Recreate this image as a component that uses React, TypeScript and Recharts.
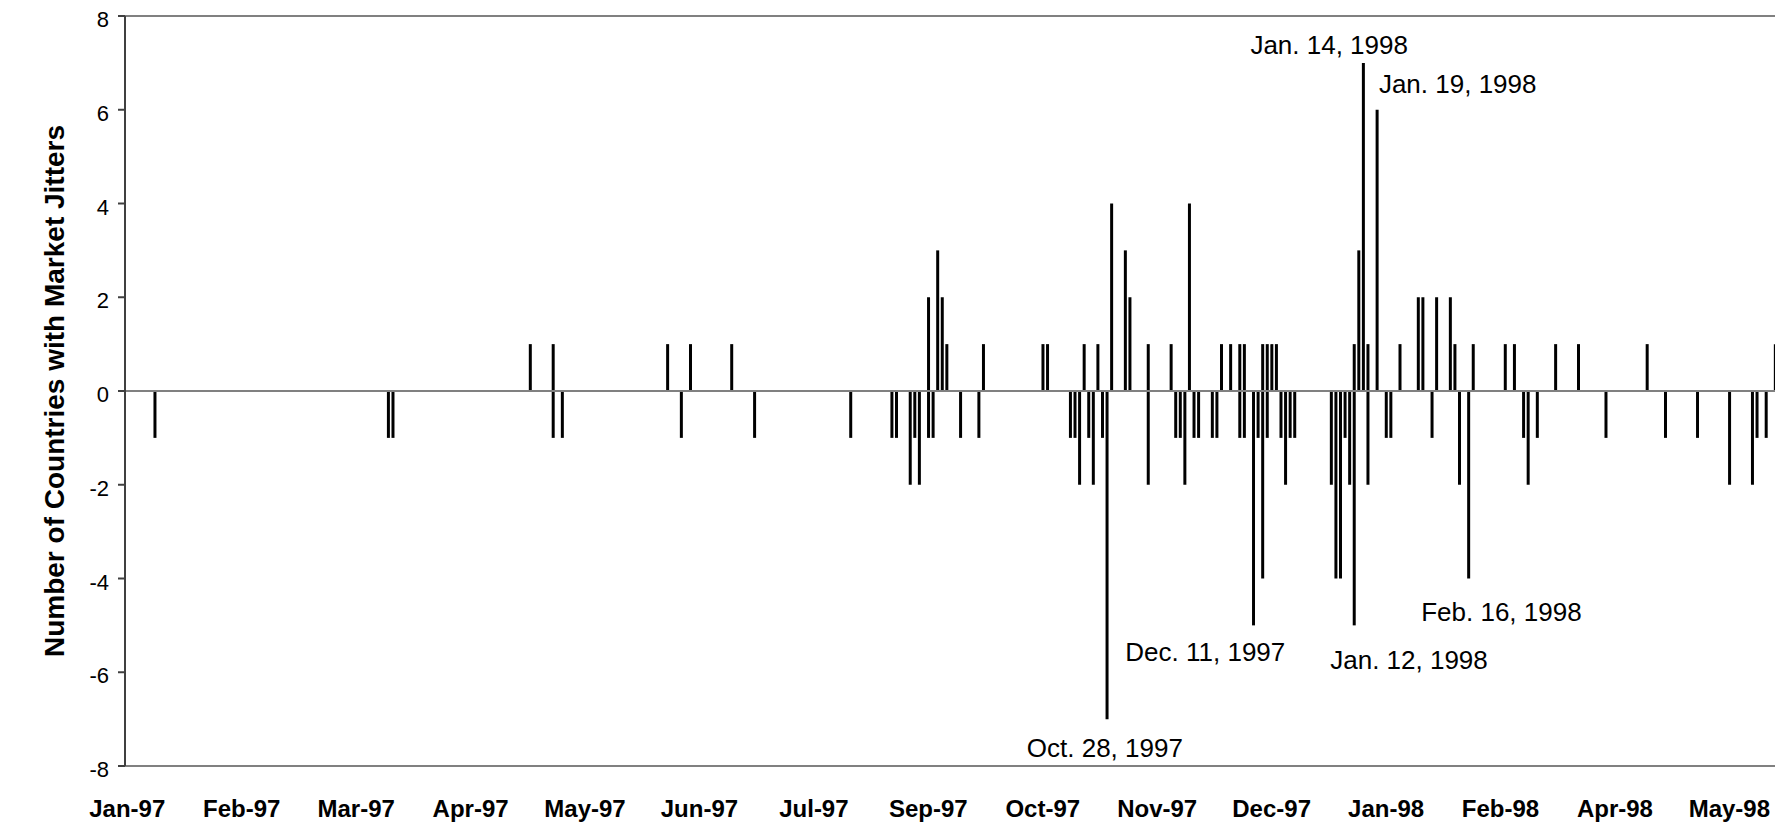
import { BarChart, Bar, XAxis, YAxis, ReferenceLine, ReferenceDot } from 'recharts';

// trading days (weekdays) shown on the category axis
const firstDay = '1997-01-01';
const lastDay = '1998-05-21';

// days with countries jittering upward
const upDays = [
    '1997-05-05', '1997-05-12', '1997-06-16', '1997-06-23', '1997-07-04',
    '1997-09-03', '1997-09-05', '1997-09-08', '1997-09-09', '1997-09-19',
    '1997-10-08', '1997-10-09', '1997-10-21', '1997-10-24', '1997-10-29',
    '1997-11-03', '1997-11-04', '1997-11-10', '1997-11-17', '1997-11-21',
    '1997-12-02', '1997-12-04', '1997-12-08', '1997-12-09', '1997-12-15',
    '1997-12-16', '1997-12-17', '1997-12-18', '1998-01-12', '1998-01-13',
    '1998-01-14', '1998-01-15', '1998-01-19', '1998-01-26', '1998-01-30',
    '1998-02-02', '1998-02-05', '1998-02-10', '1998-02-11', '1998-02-17',
    '1998-02-26', '1998-03-02', '1998-03-13', '1998-03-20', '1998-04-10',
    '1998-05-20',
];
const upCounts = [
    1, 1, 1, 1, 1,
    2, 3, 2, 1, 1,
    1, 1, 1, 1, 4,
    3, 2, 1, 1, 4,
    1, 1, 1, 1, 1,
    1, 1, 1, 1, 3,
    7, 1, 6, 1, 2,
    2, 2, 2, 1, 1,
    1, 1, 1, 1, 1,
    1,
];

// days with countries jittering downward
const downDays = [
    '1997-01-09', '1997-03-21', '1997-03-24', '1997-05-12', '1997-05-14',
    '1997-06-19', '1997-07-11', '1997-08-11', '1997-08-22', '1997-08-25',
    '1997-08-28', '1997-08-29', '1997-09-01', '1997-09-03', '1997-09-04',
    '1997-09-12', '1997-09-18', '1997-10-16', '1997-10-17', '1997-10-20',
    '1997-10-22', '1997-10-23', '1997-10-27', '1997-10-28', '1997-11-10',
    '1997-11-18', '1997-11-19', '1997-11-20', '1997-11-24', '1997-11-25',
    '1997-11-28', '1997-12-01', '1997-12-08', '1997-12-09', '1997-12-11',
    '1997-12-12', '1997-12-15', '1997-12-16', '1997-12-19', '1997-12-22',
    '1997-12-23', '1997-12-24', '1998-01-05', '1998-01-06', '1998-01-07',
    '1998-01-08', '1998-01-09', '1998-01-12', '1998-01-15', '1998-01-21',
    '1998-01-22', '1998-02-04', '1998-02-12', '1998-02-16', '1998-03-04',
    '1998-03-05', '1998-03-09', '1998-03-30', '1998-04-16', '1998-04-27',
    '1998-05-06', '1998-05-13', '1998-05-14', '1998-05-18',
];
const downCounts = [
    -1, -1, -1, -1, -1,
    -1, -1, -1, -1, -1,
    -2, -1, -2, -1, -1,
    -1, -1, -1, -1, -2,
    -1, -2, -1, -7, -2,
    -1, -1, -2, -1, -1,
    -1, -1, -1, -1, -5,
    -1, -4, -1, -1, -2,
    -1, -1, -2, -4, -4,
    -1, -2, -5, -2, -1,
    -1, -1, -2, -4, -1,
    -2, -1, -1, -1, -1,
    -2, -2, -1, -1,
];

const yTicks = [-8, -6, -4, -2, 0, 2, 4, 6, 8];
const monthNames = ['Jan', 'Feb', 'Mar', 'Apr', 'May', 'Jun', 'Jul', 'Aug', 'Sep', 'Oct', 'Nov', 'Dec'];

const noteDays = ['1997-10-28', '1997-12-11', '1998-01-12', '1998-01-14', '1998-01-19', '1998-02-16'];
const noteValues = [-7, -5, -5, 7, 6, -4];
const noteTexts = ['Oct. 28, 1997', 'Dec. 11, 1997', 'Jan. 12, 1998', 'Jan. 14, 1998', 'Jan. 19, 1998', 'Feb. 16, 1998'];

// where each note sits relative to the end of its bar
const notePlacement = [
    { dx: -2, dy: 29, anchor: 'middle' },
    { dx: -48, dy: 27, anchor: 'middle' },
    { dx: 55, dy: 35, anchor: 'middle' },
    { dx: -34, dy: -18, anchor: 'middle' },
    { dx: 2, dy: -26, anchor: 'start' },
    { dx: 33, dy: 33, anchor: 'middle' },
];

const FONT = '"Liberation Sans", Arial, sans-serif';

const days: string[] = [];
for (let t = Date.parse(firstDay); t <= Date.parse(lastDay); t += 86400000) {
    const wd = new Date(t).getUTCDay();
    if (wd !== 0 && wd !== 6) days.push(new Date(t).toISOString().slice(0, 10));
}

const data = days.map(day => {
    const u = upDays.indexOf(day);
    const d = downDays.indexOf(day);
    return { day, up: u >= 0 ? upCounts[u] : 0, down: d >= 0 ? downCounts[d] : 0 };
});

const monthLabel = (day: string) => {
    const [y, m] = day.split('-');
    return `${monthNames[parseInt(m) - 1]}-${y.slice(2)}`;
};

const DayTick = (props: any) => {
    const { x, y, payload } = props;
    return (
        <text x={x} y={y} dy={51} textAnchor="middle" fontFamily={FONT} fontSize={24} fontWeight="bold" fill="#000">
            {monthLabel(payload.value)}
        </text>
    );
};

const CountTick = (props: any) => {
    const { x, y, payload } = props;
    return (
        <text x={x} y={y} dy={11} textAnchor="end" fontFamily={FONT} fontSize={22} fill="#000">
            {payload.value}
        </text>
    );
};

const AxisTitle = () => (
    <text
        x={54}
        y={391}
        transform="rotate(-90 54 391)"
        textAnchor="middle"
        dominantBaseline="central"
        fontFamily={FONT}
        fontSize={28}
        fontWeight="bold"
        fill="#000"
    >
        Number of Countries with Market Jitters
    </text>
);

const App = () => {
    return (
        <div style={{ position: 'fixed', left: 0, top: 0, width: 1775, height: 823, overflow: 'hidden', background: '#fff' }}>
            <BarChart
                width={1782}
                height={823}
                data={data}
                margin={{ top: 16, right: 0, bottom: 0, left: 0 }}
                stackOffset="sign"
                barSize={3}
            >
                <XAxis
                    dataKey="day"
                    interval={24}
                    height={57}
                    tickLine={false}
                    tickSize={0}
                    tickMargin={0}
                    axisLine={{ stroke: '#808080', strokeWidth: 2 }}
                    tick={<DayTick />}
                />
                <YAxis
                    domain={[-8, 8]}
                    ticks={yTicks}
                    interval={0}
                    width={125}
                    tickSize={7}
                    tickMargin={9}
                    axisLine={{ stroke: '#404040', strokeWidth: 2 }}
                    tickLine={{ stroke: '#404040', strokeWidth: 2 }}
                    tick={<CountTick />}
                    label={<AxisTitle />}
                />
                <ReferenceLine y={8} stroke="#808080" strokeWidth={2} />
                <ReferenceLine y={0} stroke="#808080" strokeWidth={2} />
                <Bar dataKey="up" stackId="j" fill="#000" isAnimationActive={false} />
                <Bar dataKey="down" stackId="j" fill="#000" isAnimationActive={false} />
                {noteDays.map((day, i) => (
                    <ReferenceDot
                        key={day + i}
                        x={day}
                        y={noteValues[i]}
                        r={1}
                        fill="none"
                        stroke="none"
                        label={(p: any) => {
                            const vb = p.viewBox || { x: 0, y: 0, width: 0, height: 0 };
                            const cx = vb.x + vb.width / 2;
                            const cy = vb.y + vb.height / 2;
                            const pl = notePlacement[i];
                            return (
                                <text
                                    x={cx + pl.dx}
                                    y={cy + pl.dy}
                                    textAnchor={pl.anchor as any}
                                    dominantBaseline="central"
                                    fontFamily={FONT}
                                    fontSize={26}
                                    fill="#000"
                                >
                                    {noteTexts[i]}
                                </text>
                            );
                        }}
                    />
                ))}
            </BarChart>
        </div>
    );
};

export default App;
